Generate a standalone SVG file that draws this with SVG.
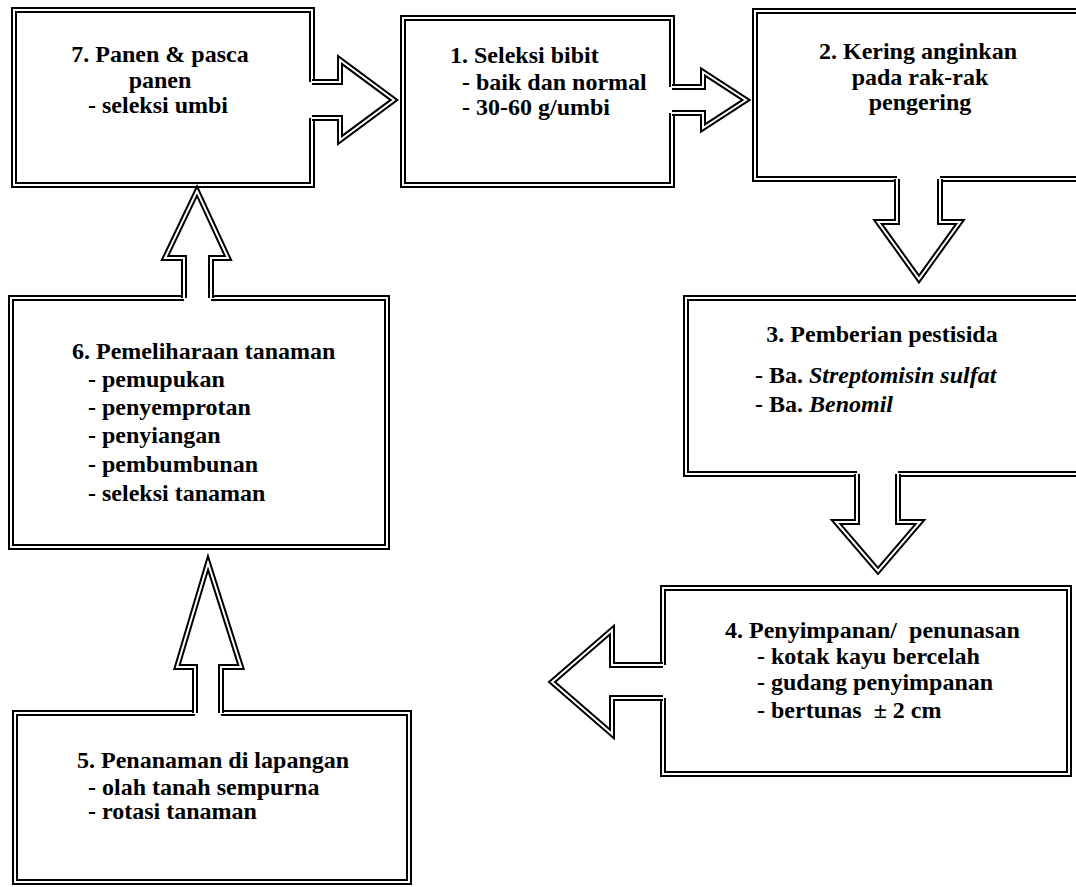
<svg xmlns="http://www.w3.org/2000/svg" width="1076" height="887" viewBox="0 0 1076 887">
<style>
.k{fill:none;stroke:#000;stroke-width:6;stroke-linejoin:miter;stroke-linecap:butt;stroke-miterlimit:6}
.w{fill:none;stroke:#fff;stroke-width:2;stroke-linejoin:miter;stroke-linecap:butt;stroke-miterlimit:6}
text{font-family:"Liberation Serif","Times New Roman",serif;font-size:24px;font-weight:bold;fill:#000}
.c{text-anchor:middle}
.i{font-style:italic}
</style>
<defs>
<path id="b7" d="M312,118 V185 H14 V10 H312 V82"/>
<path id="b1" d="M672,113 V185 H403 V18 H672 V87"/>
<path id="b2" d="M940,179 H1085 V11 H755 V179 H897"/>
<path id="b3" d="M898,474 H1085 V298 H686 V474 H857"/>
<path id="b4" d="M663,665 V588 H1069 V774 H663 V698"/>
<path id="b6" d="M184,298 H11 V547 H387 V298 H211"/>
<path id="b5" d="M195,713 H15 V882 H409 V713 H221"/>
<path id="a71" d="M312,82 H340 V60 L394,100 L340,140 V118 H312"/>
<path id="a12" d="M672,87 H703 V72 L746,100 L703,128 V113 H672"/>
<path id="a23" d="M897,179 V222 H878 L919,279 L960,222 H940 V179"/>
<path id="a34" d="M857,474 V522 H836 L878,571 L920,522 H898 V474"/>
<path id="a45" d="M663,698 H612 V734 L552,682 L612,630 V665 H663"/>
<path id="a67" d="M211,298 V258 H228 L197,191 L165,258 H184 V298"/>
<path id="a56" d="M221,713 V667 H241 L208,563 L177,667 H195 V713"/>
</defs>
<rect width="1076" height="887" fill="#fff"/>
<g id="node7">
<use href="#b7" class="k"/><use href="#b7" class="w"/>
<text class="c" x="160" y="62">7. Panen &amp; pasca</text>
<text class="c" x="160" y="88">panen</text>
<text class="c" x="158" y="113">- seleksi umbi</text>
</g>
<g id="node1">
<use href="#b1" class="k"/><use href="#b1" class="w"/>
<text x="450" y="63">1. Seleksi bibit</text>
<text x="462" y="90">- baik dan normal</text>
<text x="462" y="115">- 30-60 g/umbi</text>
</g>
<g id="node2">
<use href="#b2" class="k"/><use href="#b2" class="w"/>
<text class="c" x="918" y="59">2. Kering anginkan</text>
<text class="c" x="920" y="85">pada rak-rak</text>
<text class="c" x="920" y="110">pengering</text>
</g>
<g id="node3">
<use href="#b3" class="k"/><use href="#b3" class="w"/>
<text class="c" x="882" y="342">3. Pemberian pestisida</text>
<text x="755" y="383">- Ba. <tspan class="i">Streptomisin sulfat</tspan></text>
<text x="755" y="412">- Ba. <tspan class="i">Benomil</tspan></text>
</g>
<g id="node4">
<use href="#b4" class="k"/><use href="#b4" class="w"/>
<text x="725" y="638" style="white-space:pre">4. Penyimpanan/  penunasan</text>
<text x="757" y="664">- kotak kayu bercelah</text>
<text x="757" y="690">- gudang penyimpanan</text>
<text x="757" y="718" style="white-space:pre">- bertunas  ± 2 cm</text>
</g>
<g id="node6">
<use href="#b6" class="k"/><use href="#b6" class="w"/>
<text x="72" y="359">6. Pemeliharaan tanaman</text>
<text x="88" y="387">- pemupukan</text>
<text x="88" y="415">- penyemprotan</text>
<text x="88" y="443">- penyiangan</text>
<text x="88" y="472">- pembumbunan</text>
<text x="88" y="501">- seleksi tanaman</text>
</g>
<g id="node5">
<use href="#b5" class="k"/><use href="#b5" class="w"/>
<text x="77" y="768">5. Penanaman di lapangan</text>
<text x="88" y="795">- olah tanah sempurna</text>
<text x="88" y="819">- rotasi tanaman</text>
</g>
<g id="connectors">
<use href="#a71" class="k"/><use href="#a71" class="w"/>
<use href="#a12" class="k"/><use href="#a12" class="w"/>
<use href="#a23" class="k"/><use href="#a23" class="w"/>
<use href="#a34" class="k"/><use href="#a34" class="w"/>
<use href="#a45" class="k"/><use href="#a45" class="w"/>
<use href="#a67" class="k"/><use href="#a67" class="w"/>
<use href="#a56" class="k"/><use href="#a56" class="w"/>
</g>
</svg>
